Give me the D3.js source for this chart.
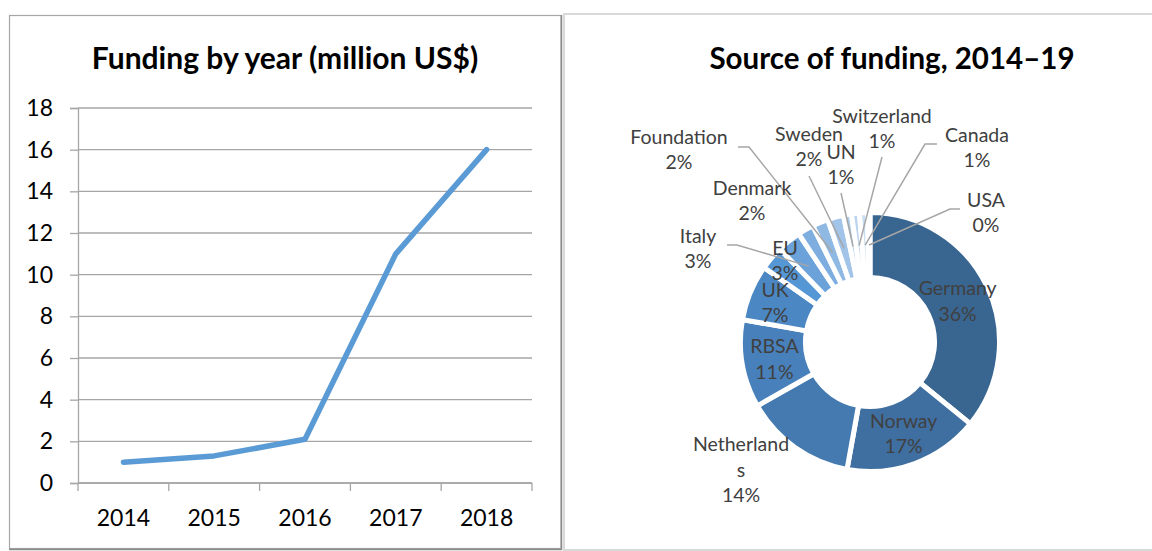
<!DOCTYPE html>
<html>
<head>
<meta charset="utf-8">
<script src="https://cdn.jsdelivr.net/npm/d3@7"></script>
<style>
  html, body { margin: 0; padding: 0; background: #fff; }
  svg { display: block; font-family: Lato, "Open Sans", sans-serif; }
</style>
</head>
<body>
<div id="chart"></div>
<script>
// Line chart data
const years = ['2014', '2015', '2016', '2017', '2018'];
const funding = [1.0, 1.3, 2.1, 11, 16];
const yTicks = [0, 2, 4, 6, 8, 10, 12, 14, 16, 18];

// Donut data (clockwise from 12 o'clock)
const sources = ['Germany', 'Norway', 'Netherlands', 'RBSA', 'UK', 'EU', 'Italy',
                 'Denmark', 'Foundation', 'Sweden', 'UN', 'Switzerland', 'Canada', 'USA'];
const shares = [36, 17, 14, 11, 7, 3, 3, 2, 2, 2, 1, 1, 1, 0.3];
const shareLabels = ['36%', '17%', '14%', '11%', '7%', '3%', '3%', '2%', '2%', '2%', '1%', '1%', '1%', '0%'];
const sliceColors = ['#396591', '#3f6fa0', '#447aaf', '#4880bb', '#4b87c3', '#5596d4', '#6aa2d9',
                     '#7eaedf', '#8fb9e3', '#a2c4e8', '#afcdec', '#bbd4ef', '#c8dcf2', '#d5e5f6'];

const W = 1152, H = 551;

const svg = d3.select('#chart')
    .append('svg')
    .attr('width', W)
    .attr('height', H);

svg.append('rect').attr('width', W).attr('height', H).attr('fill', '#fff');

// ---- panel frames ----
svg.append('rect')
    .attr('x', 564).attr('y', 14).attr('width', 600).attr('height', 536)
    .attr('fill', 'none').attr('stroke', '#d9d9d9').attr('stroke-width', 2);

svg.append('rect')
    .attr('x', 9.5).attr('y', 15.5).attr('width', 551.5).attr('height', 533)
    .attr('fill', 'none').attr('stroke', '#a6a6a6').attr('stroke-width', 1.2);
svg.append('path')
    .attr('d', 'M561.5,15V549.5H9')
    .attr('fill', 'none').attr('stroke', '#8a8a8a').attr('stroke-width', 1.5);

// ---- line chart ----
const plot = { left: 78, right: 532, top: 108, bottom: 483 };

const x = d3.scaleBand()
    .domain(years)
    .range([plot.left, plot.right])
    .padding(0);

const y = d3.scaleLinear()
    .domain([0, 18])
    .range([plot.bottom, plot.top]);

svg.append('text')
    .attr('x', 285).attr('y', 57)
    .attr('text-anchor', 'middle')
    .attr('dominant-baseline', 'central')
    .attr('font-size', 30).attr('font-weight', 700)
    .attr('fill', '#000')
    .text('Funding by year (million US$)');

// gridlines + y ticks
const yAxis = svg.append('g')
    .attr('transform', `translate(${plot.left},0)`)
    .call(d3.axisLeft(y)
        .tickValues(yTicks)
        .tickSize(8)
        .tickPadding(17)
        .tickFormat(d3.format('d')));
yAxis.select('.domain').attr('stroke', '#a6a6a6').attr('stroke-width', 1.3);
yAxis.selectAll('.tick line').attr('stroke', '#a6a6a6').attr('stroke-width', 1.3);
yAxis.selectAll('.tick text')
    .attr('font-family', 'Lato, "Open Sans", sans-serif')
    .attr('font-size', 23).attr('fill', '#000');

svg.append('g')
    .selectAll('line')
    .data(yTicks)
    .join('line')
    .attr('x1', plot.left).attr('x2', plot.right)
    .attr('y1', d => y(d)).attr('y2', d => y(d))
    .attr('stroke', '#a6a6a6').attr('stroke-width', 1.3);

// x axis with ticks at category boundaries
const xAxis = svg.append('g')
    .attr('transform', `translate(0,${plot.bottom})`);
xAxis.append('line')
    .attr('x1', plot.left).attr('x2', plot.right)
    .attr('stroke', '#a6a6a6').attr('stroke-width', 1.3);
const boundaries = years.map(d => x(d)).concat([plot.right]);
xAxis.selectAll('line.tk')
    .data(boundaries)
    .join('line')
    .attr('class', 'tk')
    .attr('x1', d => d).attr('x2', d => d)
    .attr('y1', 0).attr('y2', 8)
    .attr('stroke', '#a6a6a6').attr('stroke-width', 1.3);
xAxis.selectAll('text')
    .data(years)
    .join('text')
    .attr('x', d => x(d) + x.bandwidth() / 2)
    .attr('y', 34)
    .attr('text-anchor', 'middle')
    .attr('dominant-baseline', 'central')
    .attr('font-size', 23).attr('fill', '#000')
    .text(d => d);

const line = d3.line()
    .x((d, i) => x(years[i]) + x.bandwidth() / 2)
    .y(d => y(d));

svg.append('path')
    .datum(funding)
    .attr('d', line)
    .attr('fill', 'none')
    .attr('stroke', '#5b9bd5')
    .attr('stroke-width', 5.5)
    .attr('stroke-linecap', 'round')
    .attr('stroke-linejoin', 'round');

// ---- donut ----
const cx = 870, cy = 342;

svg.append('text')
    .attr('x', 892).attr('y', 57)
    .attr('text-anchor', 'middle')
    .attr('dominant-baseline', 'central')
    .attr('font-size', 29.5).attr('font-weight', 700)
    .attr('fill', '#000')
    .text('Source of funding, 2014\u201319');

const pie = d3.pie().sort(null).value(d => d);
const arcs = pie(shares);

const arc = d3.arc().innerRadius(64.5).outerRadius(129.5);
const labelArc = d3.arc().innerRadius(67).outerRadius(127);

const donut = svg.append('g').attr('transform', `translate(${cx},${cy})`);

donut.selectAll('path.slice')
    .data(arcs)
    .join('path')
    .attr('class', 'slice')
    .attr('d', arc)
    .attr('fill', (d, i) => sliceColors[i])
    .attr('stroke', '#fff')
    .attr('stroke-width', 5)
    .attr('stroke-linejoin', 'miter');

// label placement (offsets from the donut centre); default is the slice centroid
const labelLayout = {
    'Netherlands': { pos: [-129, 127], lines: ['Netherland', 's', '14%'] },
    'UK': { pos: [-95, -40] },
    'EU': { pos: [-85, -82] },
    'Italy': { pos: [-172, -94], leader: [[-143, -97], [-133, -97]] },
    'Denmark': { pos: [-118, -142] },
    'Foundation': { pos: [-191, -193], leader: [[-132, -195], [-121, -195]] },
    'Sweden': { pos: [-61, -196], leader: [[-61, -166]] },
    'UN': { pos: [-29, -178], leader: [[-29, -149]] },
    'Switzerland': { pos: [12, -214], leader: [[12, -185]] },
    'Canada': { pos: [107, -195], leader: [[67, -198], [55, -198]] },
    'USA': { pos: [116, -130], leader: [[90, -133], [80, -133]] }
};

// leader lines
arcs.forEach((d, i) => {
    const lay = labelLayout[sources[i]];
    if (!lay || !lay.leader) return;
    const pts = lay.leader.concat([labelArc.centroid(d)]);
    donut.append('path')
        .attr('d', d3.line()(pts))
        .attr('fill', 'none')
        .attr('stroke', '#a6a6a6')
        .attr('stroke-width', 1.5);
});

// labels
arcs.forEach((d, i) => {
    const lay = labelLayout[sources[i]] || {};
    const p = lay.pos || labelArc.centroid(d);
    const lines = lay.lines || [sources[i], shareLabels[i]];
    const lh = 25.5;
    const t = donut.append('text')
        .attr('text-anchor', 'middle')
        .attr('font-size', 19.5)
        .attr('fill', '#404040');
    lines.forEach((s, k) => {
        t.append('tspan')
            .attr('x', p[0])
            .attr('y', p[1] + (k - (lines.length - 1) / 2) * lh)
            .attr('dominant-baseline', 'central')
            .text(s);
    });
});
</script>
</body>
</html>
